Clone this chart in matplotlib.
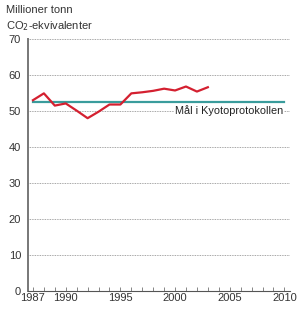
import matplotlib.pyplot as plt
from matplotlib.ticker import MultipleLocator

plt.rcParams["font.family"] = ["Liberation Sans", "DejaVu Sans"]

years = [1987, 1988, 1989, 1990, 1991, 1992, 1993, 1994, 1995,
         1996, 1997, 1998, 1999, 2000, 2001, 2002, 2003]
emissions = [53.0, 54.9, 51.5, 52.1, 50.1, 48.0, 49.8, 51.8, 51.8,
             54.9, 55.2, 55.6, 56.2, 55.7, 56.8, 55.4, 56.6]
kyoto_years = [1987, 2010]
kyoto_target = [52.4, 52.4]
year_labels = [1987, 1990, 1995, 2000, 2005, 2010]

fig = plt.figure(figsize=(3.08, 3.17), dpi=100)
ax = fig.add_axes([0.091, 0.082, 0.85, 0.795])

ax.set_xlim(1986.55, 2010.5)
ax.set_ylim(0, 70)

# grid
ax.yaxis.set_major_locator(MultipleLocator(10))
ax.grid(axis="y", color="#888888", linestyle=(0, (1, 1)), linewidth=0.6)
ax.set_axisbelow(True)

ax.plot(kyoto_years, kyoto_target, color="#3a9c9c", linewidth=1.6, zorder=3)
ax.plot(years, emissions, color="#d42030", linewidth=1.6, zorder=4)

ax.text(2009.9, 50, "Mål i Kyotoprotokollen", ha="right", va="center",
        fontsize=7.8, color="#222222", zorder=5,
        bbox=dict(facecolor="white", edgecolor="none", pad=0.8))

for s in ["top", "right"]:
    ax.spines[s].set_visible(False)
ax.spines["left"].set_color("#777777")
ax.spines["left"].set_linewidth(1.4)
ax.spines["bottom"].set_color("#555555")
ax.spines["bottom"].set_linewidth(0.8)

ax.set_xticks(year_labels)
ax.set_xticks(range(1987, 2011), minor=True)
ax.tick_params(axis="x", which="both", direction="in", length=3, width=0.5,
               color="#555555", labelsize=8, pad=1.5)
ax.tick_params(axis="y", length=0, labelsize=8, pad=5, labelcolor="#333333")
ax.tick_params(axis="x", labelcolor="#333333")

fig.text(0.02, 0.985, "Millioner tonn", fontsize=8, va="top", color="#333333")
fig.text(0.02, 0.94, "CO$_2$-ekvivalenter", fontsize=8, va="top", color="#333333")

fig.savefig("out.png", dpi=100)
